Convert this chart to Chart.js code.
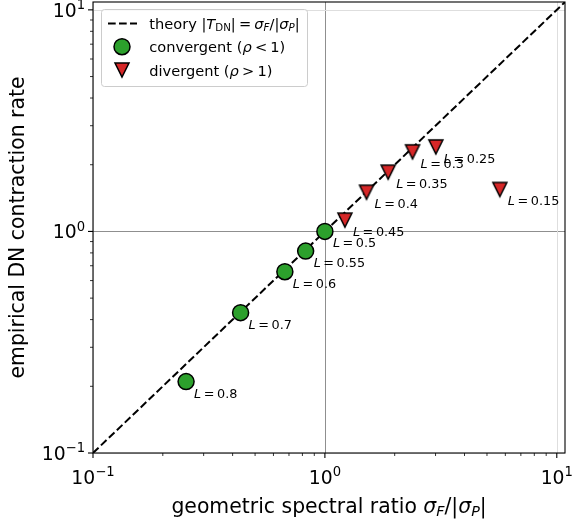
<!DOCTYPE html>
<html><head><meta charset="utf-8">
<script src="https://cdn.jsdelivr.net/npm/chart.js@4"></script>
<style>html,body{margin:0;padding:0;background:#fff}canvas{display:block}</style>
</head><body>
<canvas id="c" width="573" height="525"></canvas>
<script>
// ---- data ----
const convLabels = ["0.8", "0.7", "0.6", "0.55", "0.5"];
const convX = [0.252, 0.433, 0.672, 0.826, 1.0];
const convY = [0.210, 0.430, 0.658, 0.815, 1.0];
const divLabels = ["0.45", "0.4", "0.35", "0.3", "0.25", "0.15"];
const divX = [1.22, 1.512, 1.874, 2.388, 3.009, 5.68];
const divY = [1.125, 1.503, 1.851, 2.286, 2.407, 1.547];
const theoryX = [0.1, 10.85];
const axisMin = 0.1, axisMax = 10.85;
const majorTicks = [0.1, 1, 10];
const majorTickLabels = [["10", "\u22121"], ["10", "0"], ["10", "1"]];
const minorMantissas = [2, 3, 4, 5, 6, 7, 8, 9];

const FAM = '"DejaVu Sans"';
const GREEN = '#2ca02c', RED = '#d62728';

function triCanvas() {
  const S = 22, c = document.createElement('canvas');
  c.width = S; c.height = S;
  const g = c.getContext('2d');
  g.beginPath();
  g.moveTo(4, 4); g.lineTo(18, 4); g.lineTo(11, 18); g.closePath();
  g.fillStyle = RED; g.fill();
  g.lineWidth = 1.5; g.lineJoin = 'miter'; g.strokeStyle = '#000'; g.stroke();
  return c;
}
const TRI = triCanvas();

function drawRuns(ctx, runs, x, y, size, align) {
  const items = runs.map(r => {
    if (r.sp != null) return { w: r.sp * size };
    const s = (r.sub || r.sup) ? size * 0.7 : size;
    const font = (r.it ? 'italic ' : '') + s + 'px ' + FAM;
    ctx.font = font;
    return { r, font, w: ctx.measureText(r.t).width };
  });
  const total = items.reduce((a, b) => a + b.w, 0);
  let cx = align === 'center' ? x - total / 2 : align === 'right' ? x - total : x;
  ctx.textAlign = 'left'; ctx.textBaseline = 'alphabetic';
  for (const it of items) {
    if (it.r) {
      ctx.font = it.font;
      const dy = it.r.sub ? size * 0.17 : it.r.sup ? -size * 0.4 : 0;
      ctx.fillText(it.r.t, cx, y + dy);
    }
    cx += it.w;
  }
  return total;
}

const decor = {
  id: 'decor',
  beforeDatasetsDraw(chart) {
    const { ctx, chartArea: a, scales: { x, y } } = chart;
    ctx.save();
    ctx.lineWidth = 1;
    for (const v of majorTicks) {
      ctx.strokeStyle = v === 1 ? '#8f8f8f' : '#dedede';
      const px = Math.round(x.getPixelForValue(v)) + 0.5;
      const py = Math.round(y.getPixelForValue(v)) + 0.5;
      ctx.beginPath(); ctx.moveTo(px, a.top); ctx.lineTo(px, a.bottom); ctx.stroke();
      ctx.beginPath(); ctx.moveTo(a.left, py); ctx.lineTo(a.right, py); ctx.stroke();
    }
    ctx.restore();
  },
  afterDatasetsDraw(chart) {
    const { ctx, scales: { x, y } } = chart;
    ctx.save();
    ctx.fillStyle = '#000';
    const put = (xs, ys, labs) => xs.forEach((v, i) => {
      const px = x.getPixelForValue(v) + 8, py = y.getPixelForValue(ys[i]) + 16;
      drawRuns(ctx, [{ t: 'L', it: 1 }, { sp: 0.2 }, { t: '=' }, { sp: 0.2 }, { t: labs[i] }], px, py, 12.8, 'left');
    });
    put(convX, convY, convLabels);
    put(divX, divY, divLabels);
    ctx.restore();
  },
  afterDraw(chart) {
    const { ctx, chartArea: a, scales: { x, y } } = chart;
    ctx.save();
    // frame
    ctx.strokeStyle = '#000'; ctx.lineWidth = 1.1;
    ctx.strokeRect(a.left, a.top, a.right - a.left, a.bottom - a.top);
    // ticks
    const tick = (v, len, lw) => {
      ctx.lineWidth = lw;
      const px = x.getPixelForValue(v);
      if (px >= a.left - 0.5 && px <= a.right + 0.5) {
        ctx.beginPath(); ctx.moveTo(px, a.bottom); ctx.lineTo(px, a.bottom + len); ctx.stroke();
      }
      const py = y.getPixelForValue(v);
      if (py >= a.top - 0.5 && py <= a.bottom + 0.5) {
        ctx.beginPath(); ctx.moveTo(a.left, py); ctx.lineTo(a.left - len, py); ctx.stroke();
      }
    };
    for (const m of majorTicks) {
      tick(m, 5, 1.1);
      for (const k of minorMantissas) tick(m * k, 3, 0.8);
    }
    // tick labels
    ctx.fillStyle = '#000';
    majorTicks.forEach((v, i) => {
      const runs = [{ t: majorTickLabels[i][0] }, { t: majorTickLabels[i][1], sup: 1 }];
      drawRuns(ctx, runs, x.getPixelForValue(v), 484, 18.8, 'center');
      drawRuns(ctx, runs, a.left - 8, y.getPixelForValue(v) + 7, 18.8, 'right');
    });
    // axis titles
    drawRuns(ctx, [{ t: 'geometric spectral ratio ' }, { t: '\u03c3', it: 1 }, { t: 'F', it: 1, sub: 1 }, { t: '/' }, { t: '|' }, { t: '\u03c3', it: 1 }, { t: 'P', it: 1, sub: 1 }, { t: '|' }],
      (a.left + a.right) / 2, 513, 20.4, 'center');
    ctx.save();
    ctx.translate(24, (a.top + a.bottom) / 2);
    ctx.rotate(-Math.PI / 2);
    drawRuns(ctx, [{ t: 'empirical DN contraction rate' }], 0, 0, 20.4, 'center');
    ctx.restore();
    // legend
    ctx.beginPath();
    ctx.roundRect(101.5, 9.5, 206, 77, 3);
    ctx.fillStyle = 'rgba(255,255,255,0.8)'; ctx.fill();
    ctx.strokeStyle = '#cccccc'; ctx.lineWidth = 1; ctx.stroke();
    ctx.strokeStyle = '#000'; ctx.lineWidth = 2; ctx.setLineDash([7.7, 3.3]);
    ctx.beginPath(); ctx.moveTo(108, 23.5); ctx.lineTo(137, 23.5); ctx.stroke();
    ctx.setLineDash([]);
    ctx.beginPath(); ctx.arc(122, 46.7, 8, 0, Math.PI * 2);
    ctx.fillStyle = GREEN; ctx.fill(); ctx.lineWidth = 1.5; ctx.strokeStyle = '#000'; ctx.stroke();
    ctx.drawImage(TRI, 122 - TRI.width / 2, 70 - TRI.height / 2);
    ctx.fillStyle = '#000';
    drawRuns(ctx, [{ t: 'theory ' }, { t: '|' }, { t: 'T', it: 1 }, { t: 'DN', sub: 1 }, { t: '|' }, { sp: 0.22 }, { t: '=' }, { sp: 0.22 },
      { t: '\u03c3', it: 1 }, { t: 'F', it: 1, sub: 1 }, { t: '/' }, { t: '|' }, { t: '\u03c3', it: 1 }, { t: 'P', it: 1, sub: 1 }, { t: '|' }], 149.3, 28.5, 14.6, 'left');
    drawRuns(ctx, [{ t: 'convergent (' }, { t: '\u03c1', it: 1 }, { sp: 0.22 }, { t: '<' }, { sp: 0.22 }, { t: '1' }, { t: ')' }], 149.3, 52, 14.6, 'left');
    drawRuns(ctx, [{ t: 'divergent (' }, { t: '\u03c1', it: 1 }, { sp: 0.22 }, { t: '>' }, { sp: 0.22 }, { t: '1' }, { t: ')' }], 149.3, 75.5, 14.6, 'left');
    ctx.restore();
  }
};

const hiddenAxis = (horiz) => ({
  type: 'logarithmic', min: axisMin, max: axisMax,
  grid: { display: false, drawTicks: false }, border: { display: false },
  ticks: { display: false }, title: { display: false },
  afterFit: s => { if (horiz) s.height = 0; else s.width = 0; }
});

new Chart(document.getElementById('c'), {
  type: 'scatter',
  data: {
    datasets: [
      { type: 'line', label: 'theory', data: theoryX.map(v => ({ x: v, y: v })), borderColor: '#000', borderWidth: 2,
        borderDash: [7.7, 3.3], pointRadius: 0, fill: false, order: 10 },
      { label: 'convergent', data: convX.map((v, i) => ({ x: v, y: convY[i] })), pointRadius: 8, pointHoverRadius: 8,
        backgroundColor: GREEN, borderColor: '#000', borderWidth: 1.5, order: 2 },
      { label: 'divergent', data: divX.map((v, i) => ({ x: v, y: divY[i] })), pointStyle: TRI, pointRadius: 8,
        backgroundColor: RED, borderColor: '#000', order: 1 }
    ]
  },
  options: {
    responsive: false, animation: false, events: [],
    layout: { autoPadding: false, padding: { left: 93, right: 8, top: 2, bottom: 72 } },
    plugins: { legend: { display: false }, tooltip: { enabled: false } },
    scales: { x: hiddenAxis(true), y: hiddenAxis(false) }
  },
  plugins: [decor]
});
</script>
</body></html>
